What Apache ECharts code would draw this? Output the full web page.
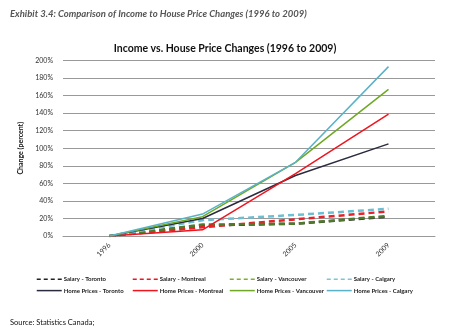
<!DOCTYPE html>
<html><head><meta charset="utf-8">
<script src="https://cdn.jsdelivr.net/npm/echarts@6/dist/echarts.min.js"></script>
<style>html,body{margin:0;padding:0;background:#fff}#c{width:450px;height:328px}</style>
</head><body><div id="c"></div>
<script>
var years = ['1996', '2000', '2005', '2009'];
var yTicks = [0, 20, 40, 60, 80, 100, 120, 140, 160, 180, 200];
var salaryToronto = [0, 12, 14, 22];
var salaryMontreal = [0, 10, 19, 28];
var salaryVancouver = [0, 13, 14, 23];
var salaryCalgary = [0, 18, 24, 31];
var homeToronto = [0, 20, 69, 105];
var homeMontreal = [0, 7, 71, 139];
var homeVancouver = [0, 22, 84, 167];
var homeCalgary = [0, 25, 84, 193];

var cities = ['Toronto', 'Montreal', 'Vancouver', 'Calgary'];
var colors = {Toronto: '#2a2b3f', Montreal: '#f0141e', Vancouver: '#6fa824', Calgary: '#5ab2c6'};
var salaryColors = {Toronto: '#3a3a3a', Montreal: '#e8202a', Vancouver: '#4f7a2a', Calgary: '#6cbfd2'};
var legendSalaryColors = {Toronto: '#222', Montreal: '#f0141e', Vancouver: '#7ab030', Calgary: '#7cc4d6'};
var salaries = {Toronto: salaryToronto, Montreal: salaryMontreal, Vancouver: salaryVancouver, Calgary: salaryCalgary};
var homes = {Toronto: homeToronto, Montreal: homeMontreal, Vancouver: homeVancouver, Calgary: homeCalgary};

var series = [];
var legends = [];
var legendLeft = [36, 132, 229, 326];
cities.forEach(function (c, i) {
  series.push({name: 'Salary - ' + c, type: 'line', data: salaries[c], symbol: 'none', z: 2,
    lineStyle: {color: salaryColors[c], width: 2.5, type: [6, 4]}, itemStyle: {color: salaryColors[c]}});
  series.push({name: 'Home Prices - ' + c, type: 'line', data: homes[c], symbol: 'none', z: 3,
    lineStyle: {color: colors[c], width: 1.5}, itemStyle: {color: colors[c]}});
  legends.push({orient: 'vertical', left: legendLeft[i], top: 276, itemWidth: 25, itemHeight: 8, itemGap: 5,
    selectedMode: false, padding: 0,
    itemStyle: {opacity: 0},
    textStyle: {fontFamily: 'Lato', fontSize: 6, fontWeight: 'bold', color: '#222', padding: [0, 0, 0, -3]},
    data: [
      {name: 'Salary - ' + c, itemStyle: {opacity: 0}, lineStyle: {color: legendSalaryColors[c], width: 1.5, type: [4, 3]}},
      {name: 'Home Prices - ' + c, itemStyle: {opacity: 0}, lineStyle: {width: 1.5}}
    ]});
});

var chart = echarts.init(document.getElementById('c'), null, {renderer: 'canvas'});
chart.setOption({
  animation: false,
  backgroundColor: '#fff',
  title: [
    {text: 'Exhibit 3.4: Comparison of Income to House Price Changes (1996 to 2009)', left: 5, top: 4,
      textStyle: {fontFamily: 'Lato', fontSize: 9.5, fontStyle: 'italic', fontWeight: 'bold', color: '#555'}},
    {text: 'Income vs. House Price Changes (1996 to 2009)', left: 'center', top: 38,
      textStyle: {fontFamily: 'Lato', fontSize: 10.5, fontWeight: 'bold', color: '#111'}},
    {text: 'Source: Statistics Canada;', left: 5, top: 314,
      textStyle: {fontFamily: 'Lato', fontSize: 7.5, fontWeight: 'normal', color: '#111'}}
  ],
  legend: legends,
  grid: {left: 63, right: 15, top: 60.5, bottom: 92},
  xAxis: {type: 'category', data: years, boundaryGap: true,
    axisLine: {show: true, lineStyle: {color: '#999', width: 1}}, axisTick: {show: false},
    axisLabel: {rotate: 45, fontFamily: 'Lato', fontSize: 7, color: '#333', margin: 8}},
  yAxis: {type: 'value', min: yTicks[0], max: yTicks[yTicks.length - 1], interval: 20,
    name: 'Change (percent)', nameLocation: 'middle', nameGap: 29, nameRotate: 90,
    nameTextStyle: {fontFamily: 'Lato', fontSize: 7, fontWeight: 'bold', color: '#111'},
    axisLine: {show: false}, axisTick: {show: false},
    splitLine: {lineStyle: {color: '#999', width: 1}},
    axisLabel: {formatter: '{value}%', fontFamily: 'Lato', fontSize: 7, color: '#333', margin: 10}},
  series: series
});
</script></body></html>
